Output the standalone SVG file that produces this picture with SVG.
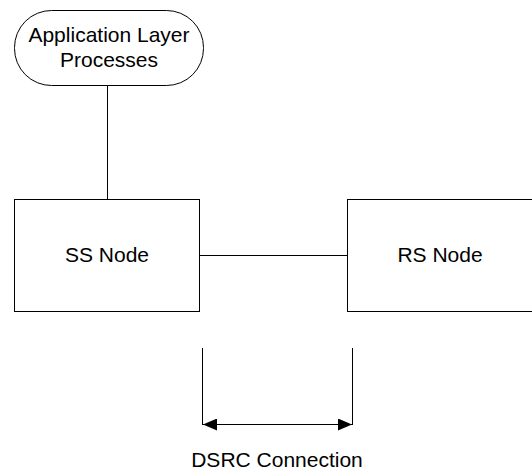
<svg xmlns="http://www.w3.org/2000/svg" width="532" height="472" viewBox="0 0 532 472">
<style>
.box{fill:#fff;stroke:#000;stroke-width:1}
.ln{stroke:#000;stroke-width:1;fill:none}
text{font-family:"Liberation Sans",Arial,sans-serif;font-size:21px;fill:#000;text-anchor:middle}
</style>
<defs>
<marker id="ah" markerWidth="14" markerHeight="12" refX="14" refY="6" orient="auto-start-reverse" markerUnits="userSpaceOnUse">
<path d="M0,0 L14,6 L0,12 Z" fill="#000"/>
</marker>
</defs>
<rect width="532" height="472" fill="#fff"/>
<g id="connectors">
<line class="ln" x1="107.5" y1="86" x2="107.5" y2="199"/>
<line class="ln" x1="199" y1="255.5" x2="347" y2="255.5"/>
<line class="ln" x1="202.5" y1="348" x2="202.5" y2="425"/>
<line class="ln" x1="352.5" y1="348" x2="352.5" y2="425"/>
<line class="ln" x1="203" y1="424.5" x2="352" y2="424.5" marker-start="url(#ah)" marker-end="url(#ah)"/>
</g>
<g id="app">
<rect class="box" x="14.5" y="10.5" width="189" height="75" rx="37" ry="37"/>
<text x="109" y="42">Application Layer</text>
<text x="109" y="67">Processes</text>
</g>
<g id="ss">
<rect class="box" x="14.5" y="199.5" width="185" height="112"/>
<text x="107" y="262">SS Node</text>
</g>
<g id="rs">
<rect class="box" x="347.5" y="199.5" width="200" height="112"/>
<text x="440" y="262">RS Node</text>
</g>
<g id="dsrc">
<text x="277" y="467">DSRC Connection</text>
</g>
</svg>
